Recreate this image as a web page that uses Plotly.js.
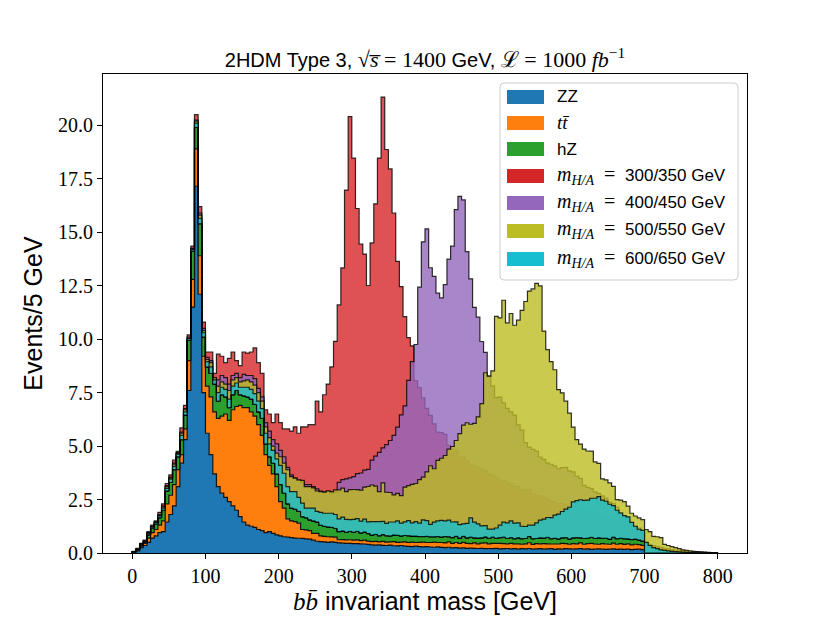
<!DOCTYPE html>
<html>
<head>
<meta charset="utf-8">
<script src="https://cdn.plot.ly/plotly-3.0.1.min.js"></script>
<style>html,body{margin:0;padding:0;background:#fff;}#chart{width:830px;height:623px;}</style>
</head>
<body>
<div id="chart"></div>
<script>
// ---------------- data (events per 5 GeV bin, 0 - 800 GeV) ----------------
const BIN_WIDTH = 5;
const N_BINS = 160;

const ZZ = [
0.03,0.1,0.25,0.35,0.5,0.7,0.8,0.95,1.0,1.45,1.8,2.2,3.1,4.2,5.3,7.6,11.5,17.15,12.1,7.5,5.6,
4.6,3.7,3.1,2.8,2.6,2.4,2.2,2.0,1.7,1.45,1.3,1.25,1.2,1.1,1.05,0.95,1.0,0.92,0.85,0.8,
0.76,0.74,0.72,0.7,0.69,0.68,0.66,0.65,0.6,0.55,0.53,0.52,0.5,0.52,0.5,0.47,0.46,0.45,0.45,0.44,
0.44,0.43,0.42,0.4,0.38,0.37,0.38,0.36,0.35,0.37,0.34,0.33,0.35,0.32,0.31,0.3,0.32,0.3,0.29,0.3,
0.28,0.27,0.29,0.26,0.25,0.27,0.24,0.25,0.23,0.24,0.22,0.23,0.22,0.21,0.22,0.2,0.21,0.2,0.22,0.19,
0.2,0.21,0.19,0.2,0.18,0.2,0.19,0.21,0.18,0.19,0.2,0.18,0.19,0.2,0.17,0.19,0.18,0.2,0.19,0.18,
0.19,0.2,0.18,0.19,0.17,0.18,0.19,0.18,0.17,0.18,0.19,0.17,0.18,0.17,0.18,0.16,0.17,0.18,0.16,
0,0,0,0,0,0,0,0,0,0,0,0,0,0,0,0,0,0,0,0];

const TTBAR = [
0.02,0.04,0.07,0.1,0.2,0.25,0.3,0.35,0.5,0.85,0.9,1.0,0.8,0.4,0.5,1.4,1.3,1.75,1.8,1.7,2.2,
2.7,2.9,3.2,3.6,3.9,3.8,4.5,4.85,5.2,5.35,5.5,5.35,5.2,4.9,4.45,3.65,3.1,2.78,2.25,1.6,
1.34,0.86,0.78,0.77,0.71,0.42,0.42,0.4,0.32,0.37,0.27,0.26,0.26,0.23,0.24,0.15,0.17,0.16,0.17,0.16,
0.17,0.15,0.18,0.16,0.15,0.17,0.14,0.18,0.16,0.15,0.19,0.17,0.16,0.2,0.18,0.21,0.17,0.2,0.22,0.19,
0.21,0.24,0.2,0.23,0.22,0.25,0.21,0.24,0.22,0.26,0.23,0.21,0.25,0.22,0.24,0.27,0.22,0.25,0.23,0.26,
0.24,0.22,0.26,0.23,0.25,0.21,0.24,0.27,0.22,0.25,0.23,0.26,0.24,0.22,0.25,0.23,0.27,0.24,0.22,0.26,
0.24,0.27,0.23,0.25,0.28,0.24,0.22,0.26,0.25,0.23,0.27,0.24,0.26,0.23,0.25,0.22,0.24,0.21,0.2,
0,0,0,0,0,0,0,0,0,0,0,0,0,0,0,0,0,0,0,0];

const HZ = [
0.01,0.02,0.06,0.05,0.15,0.2,0.25,0.35,0.5,0.6,0.6,0.7,0.6,0.7,0.65,0.95,1.3,1.0,1.5,0.9,0.9,
1.1,1.3,0.8,1.0,0.8,0.6,0.7,0.75,0.5,0.55,0.5,0.6,0.55,0.6,0.8,0.5,0.4,0.5,0.6,0.8,
0.7,0.7,0.6,0.58,0.55,0.6,0.57,0.5,0.58,0.53,0.5,0.47,0.46,0.45,0.41,0.38,0.4,0.36,0.39,0.37,
0.4,0.36,0.38,0.35,0.31,0.33,0.29,0.32,0.3,0.28,0.31,0.33,0.29,0.3,0.32,0.28,0.3,0.27,0.26,0.29,
0.27,0.25,0.28,0.26,0.3,0.24,0.27,0.29,0.25,0.28,0.26,0.3,0.24,0.27,0.25,0.28,0.26,0.29,0.24,0.27,
0.3,0.25,0.27,0.24,0.28,0.26,0.25,0.29,0.27,0.24,0.28,0.26,0.3,0.25,0.27,0.24,0.26,0.28,0.25,0.27,
0.29,0.24,0.27,0.25,0.28,0.26,0.3,0.25,0.27,0.24,0.28,0.26,0.25,0.27,0.23,0.25,0.24,0.22,0.2,
0,0,0,0,0,0,0,0,0,0,0,0,0,0,0,0,0,0,0,0];

const SIG_300_350 = [
0.02,0.06,0.07,0.1,0.15,0.15,0.15,0.25,0.3,0.35,0.35,0.45,0.25,0.55,0.45,0.25,0.25,0.6,0.8,0.7,0.7,
1.0,0.5,2.2,1.8,1.6,2.3,2.0,1.4,1.36,2.05,2.05,2.2,2.64,2.3,2.1,1.6,2.0,1.9,2.8,2.9,
3.0,3.5,3.6,3.85,3.65,4.2,4.25,4.45,4.5,5.65,5.3,6.15,6.68,7.5,8.75,10.6,12.3,16.0,19.4,17.5,
15.1,13.5,13.0,11.6,13.66,15.46,17.66,20.46,18.06,17.16,15.06,12.81,11.66,10.23,9.26,8.9,7.26,6.96,6.48,5.98,
5.68,5.28,4.88,4.88,4.78,4.28,4.18,4.0,3.8,3.7,3.6,3.4,3.35,3.3,3.2,3.1,3.0,2.9,2.85,2.7,
2.65,2.6,2.5,2.45,2.4,2.3,2.25,2.2,2.1,2.0,1.95,1.9,1.8,1.75,1.7,1.65,1.6,1.55,1.5,1.45,
1.4,1.35,1.3,1.25,1.2,1.15,1.1,1.05,1.0,0.95,0.9,0.85,0.8,0.75,0.7,0.65,0.6,0.55,0.5,0.45,
0.4,0.35,0.3,0.26,0.22,0.19,0.16,0.14,0.12,0.1,0.08,0.07,0.06,0.05,0.04,0.03,0.02,0.01,0];

const SIG_400_450 = [
0.01,0.03,0.05,0.08,0.1,0.1,0.1,0.15,0.2,0.25,0.25,0.3,0.2,0.35,0.3,0.15,0.15,0.35,0.5,0.4,0.45,
0.6,0.3,1.0,0.9,0.9,1.1,0.9,0.8,0.8,1.0,1.0,1.1,1.2,1.1,1.0,1.0,1.2,1.1,1.4,1.6,
1.7,1.7,1.55,1.45,1.45,1.6,1.55,1.65,1.6,1.55,1.6,1.6,1.68,1.6,1.7,2.3,2.4,2.5,2.5,2.6,
2.7,2.8,2.9,3.0,3.5,3.66,3.9,4.06,4.26,4.46,4.66,5.06,5.66,6.06,7.26,8.16,8.96,11.66,13.78,14.38,
12.58,12.18,11.38,11.18,11.78,12.98,13.63,15.28,15.98,15.73,13.38,12.08,10.78,10.33,9.18,8.63,7.58,7.08,6.58,6.58,
6.28,6.08,5.88,5.78,5.28,5.08,4.48,4.18,4.18,4.08,3.78,3.68,3.48,3.48,3.38,3.28,3.28,3.28,3.18,3.08,
2.88,2.78,2.48,2.38,2.28,2.18,2.08,1.98,1.88,1.73,1.58,1.48,1.2,1.0,0.85,0.7,0.55,0.45,0.35,0.3,
0.25,0.2,0.15,0.12,0.1,0.08,0.06,0.05,0.04,0.03,0.03,0.02,0.02,0.01,0.01,0.01,0,0,0];

const SIG_500_550 = [
0.01,0.02,0.04,0.06,0.08,0.08,0.1,0.1,0.15,0.2,0.2,0.25,0.15,0.3,0.25,0.1,0.1,0.3,0.4,0.3,0.35,
0.5,0.3,0.7,0.6,0.6,0.8,0.7,0.6,0.6,0.7,0.8,0.8,0.9,0.9,0.8,0.8,0.9,0.8,0.97,1.3,
1.4,1.6,1.47,1.45,1.47,1.7,1.45,1.55,1.55,1.45,1.57,1.6,1.68,1.67,1.8,1.95,2.0,1.9,1.95,2.0,
1.95,2.0,2.1,2.2,2.34,2.26,2.06,2.42,2.03,2.03,1.88,1.96,1.88,2.26,2.34,2.42,2.46,2.66,2.78,3.01,
3.32,3.18,3.56,3.68,3.79,4.1,4.26,4.48,4.88,5.2,5.38,5.28,5.35,5.67,6.28,7.68,7.58,7.78,10.38,10.28,
11.08,10.08,10.48,9.98,10.18,10.68,11.08,11.48,11.68,11.93,11.78,9.68,8.78,8.28,7.88,6.98,6.78,6.38,5.88,5.18,
4.58,4.38,4.18,4.08,4.03,3.58,3.48,2.78,2.73,2.63,2.38,1.83,1.78,1.73,1.53,1.23,1.08,1.03,1.0,1.1,
1.0,0.78,0.76,0.72,0.4,0.35,0.3,0.25,0.2,0.15,0.12,0.1,0.08,0.06,0.05,0.04,0.03,0.02,0.01];

const SIG_600_650 = [
0.01,0.02,0.03,0.04,0.05,0.06,0.07,0.08,0.1,0.12,0.15,0.15,0.12,0.2,0.15,0.08,0.08,0.2,0.25,0.2,0.25,
0.3,0.2,0.4,0.35,0.35,0.4,0.4,0.35,0.35,0.4,0.45,0.45,0.5,0.5,0.45,0.5,0.6,0.6,0.7,0.9,
0.93,0.8,0.77,0.82,0.65,0.63,0.45,0.55,0.6,0.5,0.6,0.61,0.64,0.66,0.65,0.6,0.65,0.6,0.55,0.6,
0.6,0.55,0.6,0.55,0.63,0.6,0.66,0.62,0.58,0.65,0.61,0.67,0.6,0.64,0.7,0.62,0.68,0.63,0.78,0.73,
0.58,0.68,0.73,0.78,0.73,0.78,0.73,0.68,0.63,0.58,0.68,0.9,0.73,0.66,0.56,0.53,0.43,0.38,0.48,0.58,
0.7,0.73,0.78,0.73,0.7,0.58,0.56,0.53,0.63,0.73,0.83,0.88,0.93,0.98,1.08,1.16,1.23,1.33,1.48,1.68,
1.73,1.78,1.78,1.78,1.83,1.88,1.93,1.78,1.73,1.63,1.48,1.33,1.18,1.08,1.03,0.8,0.6,0.5,0.5,0.5,
0.35,0.25,0.2,0.15,0.12,0.1,0.08,0.06,0.05,0.04,0.03,0.02,0.02,0.01,0.01,0.01,0,0,0];

const X_TICKS = [0,100,200,300,400,500,600,700,800];
const Y_TICKS = [0,2.5,5,7.5,10,12.5,15,17.5,20];

const BKG_NAMES = ["ZZ", "tt", "hZ"];
const SIG_MASSES = ["300/350", "400/450", "500/550", "600/650"];

// ---------------- helpers ----------------
const SERIF = "Liberation Serif";
const SANS = "Liberation Sans";
const NB = "\u00a0";
function serif(s, size){
  return '<span style="font-family:\'' + SERIF + '\'' + (size ? ';font-size:' + size + 'px' : '') + '">' + s + '</span>';
}

function fix(a){ const r = a.slice(0, N_BINS); while (r.length < N_BINS) r.push(0); return r; }
function add(a, b){ return a.map((v, i) => v + b[i]); }
function stepXY(vals){
  const x = [0], y = [0];
  for (let i = 0; i < N_BINS; i++){ x.push(i * BIN_WIDTH); y.push(vals[i]); }
  x.push(N_BINS * BIN_WIDTH); y.push(vals[N_BINS - 1]);
  x.push(N_BINS * BIN_WIDTH); y.push(0);
  return {x, y};
}

const zz = fix(ZZ), tt = fix(TTBAR), hz = fix(HZ);
const cumZZ = zz;
const cumTT = add(cumZZ, tt);
const cumBKG = add(cumTT, hz);
const signals = [fix(SIG_300_350), fix(SIG_400_450), fix(SIG_500_550), fix(SIG_600_650)];

const C_BKG = ["#1f77b4", "#ff7f0e", "#2ca02c"];
const C_SIG = ["214,39,40", "148,103,189", "188,189,34", "23,190,207"];
const EDGE = "#111";

const traces = [];
[cumZZ, cumTT, cumBKG].forEach((lvl, k) => {
  const s = stepXY(lvl);
  traces.push({type: "scatter", mode: "lines", x: s.x, y: s.y,
    line: {shape: "hv", color: EDGE, width: 1.2},
    fill: k === 0 ? "tozeroy" : "tonexty", fillcolor: C_BKG[k],
    showlegend: false, hoverinfo: "skip", name: BKG_NAMES[k]});
});
signals.forEach((sig, k) => {
  const base = stepXY(cumBKG);
  traces.push({type: "scatter", mode: "lines", x: base.x, y: base.y,
    line: {shape: "hv", color: "rgba(0,0,0,0.8)", width: 1.0},
    showlegend: false, hoverinfo: "skip"});
  const s = stepXY(add(cumBKG, sig));
  traces.push({type: "scatter", mode: "lines", x: s.x, y: s.y,
    line: {shape: "hv", color: "rgba(0,0,0,0.8)", width: 1.2},
    fill: "tonexty", fillcolor: "rgba(" + C_SIG[k] + ",0.8)",
    showlegend: false, hoverinfo: "skip", name: SIG_MASSES[k]});
});

// ---------------- legend drawn manually ----------------
const PL = 103, PR = 747, PT = 74, PB = 553;
const px = v => (v - PL) / (PR - PL);
const py = v => (PB - v) / (PB - PT);

const shapes = [];
const annotations = [];
(function(){
  const x0 = px(500), x1 = px(738), y0 = py(280), y1 = py(83);
  const rx = 4 / (PR - PL), ry = 4 / (PB - PT);
  const path = `M ${x0 + rx},${y0} L ${x1 - rx},${y0} Q ${x1},${y0} ${x1},${y0 + ry} L ${x1},${y1 - ry} Q ${x1},${y1} ${x1 - rx},${y1} L ${x0 + rx},${y1} Q ${x0},${y1} ${x0},${y1 - ry} L ${x0},${y0 + ry} Q ${x0},${y0} ${x0 + rx},${y0} Z`;
  shapes.push({type: "path", xref: "paper", yref: "paper", path: path,
    fillcolor: "rgba(255,255,255,0.8)", line: {color: "#cccccc", width: 1}, layer: "above"});
})();
const legendLabels = [
  "ZZ",
  serif("<i>tt\u0304</i>", 19),
  "hZ"
].concat(SIG_MASSES.map(m => serif("<i>m</i><sub><i>H/A</i></sub>" + NB + NB + "=" + NB, 20) + NB + m + " GeV"));
const legendColors = C_BKG.concat(C_SIG.map(c => "rgb(" + c + ")"));
const rowY = [97, 123, 149, 176, 203, 231, 259];
legendLabels.forEach((lab, i) => {
  shapes.push({type: "rect", xref: "paper", yref: "paper",
    x0: px(507), x1: px(544), y0: py(rowY[i] + 7), y1: py(rowY[i] - 7),
    fillcolor: legendColors[i], line: {width: 0}, layer: "above"});
  annotations.push({xref: "paper", yref: "paper", x: px(555), y: py(rowY[i] + (i >= 3 ? -1 : 0)),
    xanchor: "left", yanchor: "middle", showarrow: false, text: lab,
    font: {family: SANS, size: 17, color: "#000"}});
});

// ---------------- layout ----------------
const layout = {
  width: 830, height: 623,
  margin: {l: PL, r: 830 - PR, t: PT, b: 623 - PB, pad: 0},
  paper_bgcolor: "#fff", plot_bgcolor: "#fff",
  font: {family: SANS, color: "#000"},
  title: {
    text: "2HDM Type 3, " + serif("\u221A<i>s\u0305</i>" + NB + "=" + NB + "1400", 22) + " GeV, " +
          serif("\u2112" + NB + "=" + NB + "1000" + NB + "<i>fb</i><sup>\u22121</sup>", 22),
    x: 0.5, xref: "paper", xanchor: "center",
    y: 1 - 60 / 623, yref: "container", yanchor: "middle",
    font: {family: SANS, size: 20, color: "#000"}
  },
  xaxis: {
    range: [-40, 840], autorange: false,
    tickmode: "array", tickvals: X_TICKS, ticktext: X_TICKS.map(String),
    ticks: "outside", ticklen: 5, tickwidth: 1, tickcolor: "#000",
    tickfont: {family: SERIF, size: 20, color: "#000"},
    showline: true, mirror: true, linecolor: "#000", linewidth: 1,
    showgrid: false, zeroline: false, automargin: false,
    title: {text: serif("<i>bb\u0304</i>") + " invariant mass [GeV]",
      font: {family: SANS, size: 25, color: "#000"}, standoff: 4}
  },
  yaxis: {
    range: [0, 22.4], autorange: false,
    tickmode: "array", tickvals: Y_TICKS, ticktext: Y_TICKS.map(v => v.toFixed(1)),
    ticks: "outside", ticklen: 5, tickwidth: 1, tickcolor: "#000",
    tickfont: {family: SERIF, size: 20, color: "#000"},
    showline: true, mirror: true, linecolor: "#000", linewidth: 1,
    showgrid: false, zeroline: false, automargin: false,
    title: {text: "Events/5 GeV", font: {family: SANS, size: 25, color: "#000"}, standoff: 8}
  },
  shapes: shapes,
  annotations: annotations,
  showlegend: false
};

Plotly.newPlot("chart", traces, layout, {displayModeBar: false});
</script>
</body>
</html>
